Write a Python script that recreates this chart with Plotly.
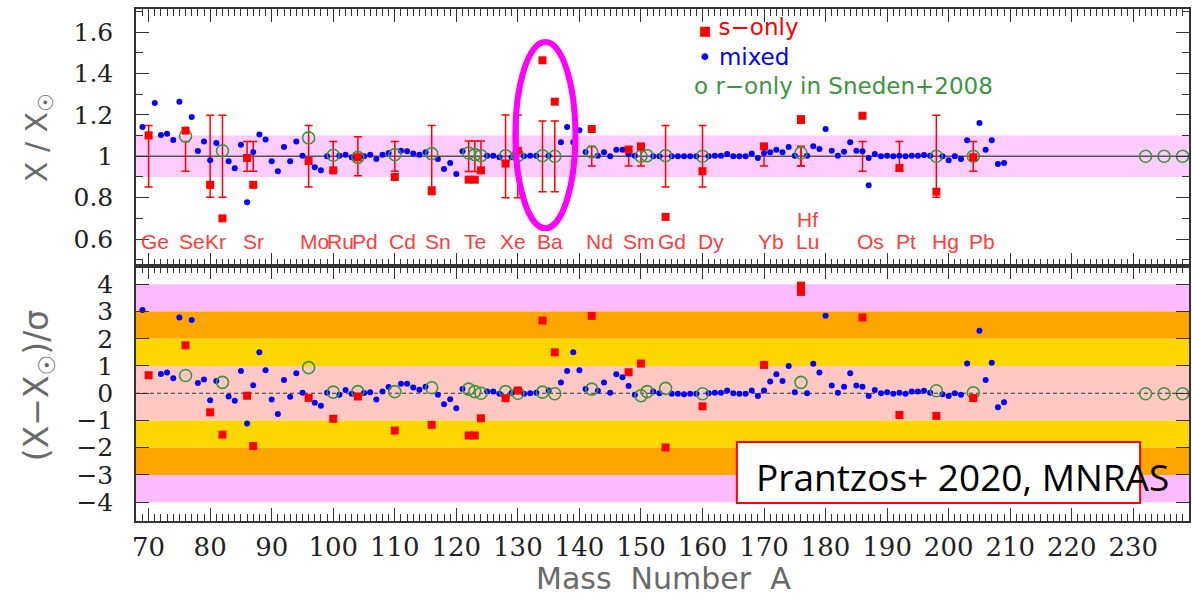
import plotly.graph_objects as go

# ---------------- data ----------------
# mixed isotopes (blue dots), top panel X/Xsun
mixed_A_top = [69, 71, 72, 73, 74, 75, 77, 78, 79, 80, 81, 83, 84, 85, 86, 87, 88, 89, 90, 91, 92, 93, 94, 95,
               97, 98, 99, 101, 102, 103, 105, 106, 107, 108, 109, 111, 112, 113, 114, 115, 117, 118, 119, 120,
               121, 125, 126, 127, 129, 131, 132, 133, 135, 137, 138, 139, 140, 141, 143, 144, 145, 146, 147,
               148, 149, 152, 153, 155, 156, 157, 158, 159, 161, 162, 163, 164, 165, 166, 167, 168, 169, 170,
               171, 172, 173, 174, 175, 177, 178, 179, 180, 181, 182, 183, 184, 185, 186, 187, 187, 188, 189,
               190, 191, 192, 193, 194, 195, 196, 197, 199, 200, 201, 202, 203, 205, 206, 207, 208, 209]
mixed_top = [1.142, 1.258, 1.103, 1.109, 1.079, 1.264, 1.190, 1.026, 1.072, 0.981, 1.064, 0.976, 0.942, 1.056,
             0.778, 1.021, 1.105, 1.081, 0.976, 0.928, 1.045, 0.976, 1.071, 1.003, 0.947, 0.932, 1.000, 1.003,
             1.008, 0.995, 1.000, 1.008, 0.987, 1.008, 1.016, 1.027, 1.024, 1.013, 1.008, 1.019, 0.987, 0.939,
             0.968, 0.915, 1.024, 1.003, 1.003, 0.995, 0.995, 1.000, 1.003, 1.003, 1.003, 1.068, 1.142, 1.068,
             1.126, 1.021, 1.003, 1.019, 1.000, 1.032, 1.032, 1.010, 1.003, 1.000, 1.000, 1.000, 1.000, 1.000,
             1.000, 1.000, 1.000, 1.003, 1.003, 1.011, 1.000, 1.000, 1.000, 1.013, 0.992, 1.016, 1.019, 1.032,
             1.019, 1.045, 1.003, 1.003, 1.048, 1.035, 1.132, 1.027, 1.003, 1.022, 1.068, 1.027, 1.024, 0.992,
             0.860, 1.011, 1.000, 1.003, 1.000, 1.003, 1.000, 1.003, 1.003, 1.006, 1.003, 1.000, 0.981, 1.000,
             0.987, 1.077, 1.161, 1.032, 1.077, 0.963, 0.968]

# mixed isotopes, bottom panel (X - Xsun)/sigma
mixed_A_bot = [69, 72, 73, 74, 75, 77, 78, 79, 80, 81, 83, 84, 85, 86, 87, 88, 89, 90, 91, 92, 93, 94, 95, 97,
               98, 99, 101, 102, 103, 105, 106, 107, 108, 109, 111, 112, 113, 114, 115, 117, 118, 119, 120, 121,
               125, 126, 127, 129, 131, 132, 133, 135, 137, 138, 139, 140, 141, 143, 144, 145, 146, 147, 148,
               149, 152, 153, 155, 156, 157, 158, 159, 161, 162, 163, 164, 165, 166, 167, 168, 169, 170, 171,
               172, 173, 174, 175, 177, 178, 179, 180, 181, 182, 183, 184, 185, 186, 187, 188, 189, 190, 191,
               192, 193, 194, 195, 196, 197, 199, 200, 201, 202, 203, 205, 206, 207, 208, 209]
mixed_bot = [3.06, 0.71, 0.76, 0.55, 2.78, 2.69, 0.38, 0.50, -0.26, 0.45, -0.12, -0.28, 0.82, -1.11, 0.29, 1.50,
             0.84, -0.23, -0.76, 0.49, -0.13, 0.73, 0.02, -0.35, -0.46, 0.02, -0.06, 0.12, -0.02, 0.01, 0.04,
             -0.23, 0.06, 0.23, 0.35, 0.35, 0.21, 0.13, 0.24, -0.06, -0.40, -0.22, -0.55, 0.16, 0.06, 0.06, -0.02,
             0.02, -0.02, 0.00, 0.02, 0.10, 0.39, 0.82, 1.50, 0.84, 0.16, 0.09, 0.39, 0.02, 0.70, 0.59, 0.27,
             -0.06, 0.06, 0.00, -0.02, -0.02, -0.04, -0.02, -0.02, 0.00, 0.02, 0.02, 0.10, 0.00, -0.02, -0.02,
             0.10, -0.10, 0.10, 0.43, 0.70, 0.45, 1.00, 0.04, 0.00, 1.08, 0.76, 2.84, 0.28, 0.02, 0.24, 0.73,
             0.28, 0.24, -0.10, 0.12, 0.00, 0.04, -0.02, 0.02, -0.02, 0.06, 0.06, 0.09, 0.02, -0.04, -0.10, 0.00,
             -0.06, 1.09, 2.29, 0.49, 1.12, -0.51, -0.33]

# s-only isotopes (red squares), with solar uncertainty sigma
s_A = [70, 76, 80, 82, 86, 87, 96, 100, 104, 110, 116, 122, 123, 124, 128, 130, 134, 136, 142, 148, 150, 154,
       160, 170, 176, 176, 186, 192, 198, 204]
s_top = [1.101, 1.124, 0.862, 0.700, 0.992, 0.862, 0.977, 0.932, 0.995, 0.900, 0.831, 0.887, 0.887, 0.932,
         0.965, 1.027, 1.464, 1.264, 1.132, 1.032, 1.048, 0.707, 0.928, 1.048, 1.180, 1.175, 1.196, 0.944,
         0.829, 0.995]
s_sigma = [0.149, 0.072, 0.198, 0.198, 0.072, 0.072, 0.149, 0.072, 0.094, 0.072, 0.149, 0.074, 0.074, 0.074,
           0.200, 0.200, 0.171, 0.171, 0.047, 0.047, 0.047, 0.149, 0.149, 0.047, 0.047, 0.047, 0.072, 0.072,
           0.198, 0.072]
s_bot = [0.66, 1.76, -0.70, -1.52, -0.09, -1.94, -0.17, -0.94, -0.12, -1.37, -1.16, -1.55, -1.55, -0.92, -0.18,
         0.10, 2.67, 1.50, 2.84, 0.77, 1.09, -1.99, -0.48, 1.04, 3.95, 3.72, 2.78, -0.80, -0.83, -0.18]

# r-only in Sneden+2008 (green open circles)
r_A = [76, 82, 96, 100, 104, 110, 116, 122, 123, 124, 128, 130, 134, 136, 142, 150, 151, 154, 160, 176, 198,
       204, 232, 235, 238]
r_top = [1.098, 1.027, 1.089, 1.005, 0.995, 1.008, 1.013, 1.016, 1.008, 1.003, 1.003, 1.003, 1.003, 1.000,
         1.021, 1.000, 1.003, 1.003, 1.000, 1.016, 1.000, 1.000, 1.000, 1.000, 1.000]
r_bot = [0.65, 0.40, 0.94, 0.04, 0.06, 0.06, 0.20, 0.15, 0.06, 0.00, 0.06, 0.00, 0.04, -0.02, 0.15, -0.09, 0.06,
         0.18, -0.02, 0.40, 0.09, 0.02, -0.02, -0.02, -0.02]

# element labels in the top panel
elem_names = ["Ge", "Se", "Kr", "Sr", "Mo", "Ru", "Pd", "Cd", "Sn", "Te", "Xe", "Ba", "Nd", "Sm", "Gd", "Dy",
              "Yb", "Lu", "Os", "Pt", "Hg", "Pb"]
elem_A = [71.1, 77.1, 80.9, 87.0, 97.0, 101.2, 105.1, 111.2, 117.1, 123.0, 129.2, 135.2, 143.2, 149.7, 155.1,
          161.3, 171.2, 177.0, 187.3, 193.1, 199.5, 205.4]

x_ticks = list(range(70, 231, 10))
top_ticks = [0.6, 0.8, 1.0, 1.2, 1.4, 1.6]
top_tick_text = ["0.6", "0.8", "1", "1.2", "1.4", "1.6"]
bot_ticks = [-4, -3, -2, -1, 0, 1, 2, 3, 4]
solar = 1.0

# ---------------- layout helpers ----------------
W, H = 1192, 598
ML, MR, MT, MB = 136, 1, 9, 77
PW, PH = W - ML - MR, H - MT - MB


def pxx(x):
    return (x - ML) / PW


def pxy(y):
    return (H - MB - y) / PH


split = 0.498
RED = "#ff0000"
BLUE = "#0000ff"
GREEN = "#3c963c"

fig = go.Figure()

# error bars (solar uncertainty around 1)
fig.add_trace(go.Scatter(
    x=s_A, y=[solar] * len(s_A), mode="markers", marker=dict(size=1, color="rgba(0,0,0,0)"),
    error_y=dict(type="data", array=s_sigma, visible=True, color=RED, thickness=1.5, width=4),
    xaxis="x2", yaxis="y2", hoverinfo="skip", showlegend=False))

# top panel
fig.add_trace(go.Scatter(x=mixed_A_top, y=mixed_top, mode="markers", xaxis="x2", yaxis="y2",
                         marker=dict(symbol="circle", size=6, color=BLUE), showlegend=False))
fig.add_trace(go.Scatter(x=r_A, y=r_top, mode="markers", xaxis="x2", yaxis="y2",
                         marker=dict(symbol="circle-open", size=12, color=GREEN, line=dict(width=1.6)),
                         showlegend=False))
fig.add_trace(go.Scatter(x=s_A, y=s_top, mode="markers", xaxis="x2", yaxis="y2",
                         marker=dict(symbol="square", size=8, color=RED), showlegend=False))

# bottom panel
fig.add_trace(go.Scatter(x=mixed_A_bot, y=mixed_bot, mode="markers", xaxis="x", yaxis="y",
                         marker=dict(symbol="circle", size=6, color=BLUE), showlegend=False))
fig.add_trace(go.Scatter(x=r_A, y=r_bot, mode="markers", xaxis="x", yaxis="y",
                         marker=dict(symbol="circle-open", size=12, color=GREEN, line=dict(width=1.6)),
                         showlegend=False))
fig.add_trace(go.Scatter(x=s_A, y=s_bot, mode="markers", xaxis="x", yaxis="y",
                         marker=dict(symbol="square", size=8, color=RED), showlegend=False))

shapes = []
# top panel band and solar line
shapes.append(dict(type="rect", xref="x2 domain", yref="y2", x0=0, x1=1, y0=0.9, y1=1.1,
                   fillcolor="#ffccff", line=dict(width=0), layer="below"))
shapes.append(dict(type="line", xref="x2 domain", yref="y2", x0=0, x1=1, y0=solar, y1=solar,
                   line=dict(color="#555555", width=1.5), layer="below"))
# bottom panel sigma bands
bands = [(3, 4, "#ffbbff"), (2, 3, "#ffa500"), (1, 2, "#ffd700"), (-1, 1, "#ffc8c3"),
         (-2, -1, "#ffd700"), (-3, -2, "#ffa500"), (-4, -3, "#ffbbff")]
for lo, hi, col in bands:
    shapes.append(dict(type="rect", xref="x domain", yref="y", x0=0, x1=1, y0=lo, y1=hi,
                       fillcolor=col, line=dict(width=0), layer="below"))
shapes.append(dict(type="line", xref="x domain", yref="y", x0=0, x1=1, y0=0, y1=0,
                   line=dict(color="#333333", width=1, dash="4px,3px"), layer="below"))
# magenta ellipse around Ba
shapes.append(dict(type="circle", xref="x2", yref="y2", x0=129.6, x1=139.35, y0=0.652, y1=1.553,
                   line=dict(color="#ff00ff", width=6), layer="above"))
# reference box
shapes.append(dict(type="rect", xref="paper", yref="paper", x0=pxx(738), x1=pxx(1142), y0=pxy(503),
                   y1=pxy(442), fillcolor="white", line=dict(color="#ff0000", width=2), layer="above"))

annotations = []
elem_font = dict(family="Liberation Sans Narrow, Liberation Sans", size=21, color="#ff3b3b")
for name, a in zip(elem_names, elem_A):
    annotations.append(dict(x=a, y=0.59, xref="x2", yref="y2", text=name, showarrow=False,
                            xanchor="center", yanchor="middle", font=elem_font))
annotations.append(dict(x=177.0, y=0.695, xref="x2", yref="y2", text="Hf", showarrow=False,
                        xanchor="center", yanchor="middle", font=elem_font))

# legend-like labels
leg_font = "DejaVu Sans"
annotations.append(dict(x=pxx(698), y=pxy(27), xref="paper", yref="paper", xanchor="left", yanchor="middle",
                        text="<span style='font-size:13px'>■</span> s−only", showarrow=False,
                        font=dict(family=leg_font, size=23, color=RED)))
annotations.append(dict(x=pxx(697), y=pxy(57), xref="paper", yref="paper", xanchor="left", yanchor="middle",
                        text="• mixed", showarrow=False, font=dict(family=leg_font, size=23, color=BLUE)))
annotations.append(dict(x=pxx(693), y=pxy(86), xref="paper", yref="paper", xanchor="left", yanchor="middle",
                        text="o r−only in Sneden+2008", showarrow=False,
                        font=dict(family=leg_font, size=23, color=GREEN)))

# axis titles
title_col = "#6a6a6a"
annotations.append(dict(x=pxx(38), y=pxy(138), xref="paper", yref="paper", text="X / X<sub>☉</sub>",
                        textangle=-90, showarrow=False, xanchor="center", yanchor="middle",
                        font=dict(family="DejaVu Sans", size=30, color=title_col)))
annotations.append(dict(x=pxx(38), y=pxy(386), xref="paper", yref="paper", text="(X−X<sub>☉</sub>)/σ",
                        textangle=-90, showarrow=False, xanchor="center", yanchor="middle",
                        font=dict(family="DejaVu Sans", size=33, color=title_col)))
annotations.append(dict(x=pxx(665), y=pxy(578), xref="paper", yref="paper",
                        text="Mass\u00a0\u00a0Number\u00a0\u00a0A", showarrow=False, xanchor="center",
                        yanchor="middle", font=dict(family="DejaVu Sans", size=30, color=title_col)))
# reference text
annotations.append(dict(x=pxx(755), y=pxy(476), xref="paper", yref="paper", xanchor="left", yanchor="middle",
                        text="Prantzos+ 2020, MNRAS", showarrow=False,
                        font=dict(family="Open Sans", size=37, color="black")))

axis_common = dict(showline=True, linecolor="#333333", linewidth=1.5, mirror="ticks", ticks="inside",
                   showgrid=False, zeroline=False, tickcolor="#333333")
tick_font = dict(family="DejaVu Serif", size=25, color="#222222")

fig.update_layout(
    width=W, height=H, margin=dict(l=ML, r=MR, t=MT, b=MB),
    paper_bgcolor="white", plot_bgcolor="white", showlegend=False,
    xaxis=dict(domain=[0, 1], anchor="y", range=[67.95, 239.05], tickvals=x_ticks, ticklen=13, tickwidth=1.3,
               minor=dict(dtick=1, ticklen=7, tickwidth=1, ticks="inside", tickcolor="#333333"),
               tickfont=dict(family="DejaVu Serif", size=26, color="#222222"), ticklabelstandoff=2,
               **axis_common),
    xaxis2=dict(domain=[0, 1], anchor="y2", matches="x", range=[67.95, 239.05], tickvals=x_ticks, ticklen=13,
                tickwidth=1.3, showticklabels=False,
                minor=dict(dtick=1, ticklen=7, tickwidth=1, ticks="inside", tickcolor="#333333"),
                **axis_common),
    yaxis=dict(domain=[0, split], anchor="x", range=[-4.69, 4.67], tickvals=bot_ticks, ticklen=13,
               tickwidth=1.3, tickfont=tick_font, ticklabelstandoff=16, **axis_common),
    yaxis2=dict(domain=[split, 1], anchor="x2", range=[0.4696, 1.712], tickvals=top_ticks,
                ticktext=top_tick_text, ticklen=13, tickwidth=1.3,
                minor=dict(dtick=0.1, tick0=0, ticklen=7, tickwidth=1, ticks="inside", tickcolor="#333333"),
                tickfont=tick_font, ticklabelstandoff=16, **axis_common),
    shapes=shapes, annotations=annotations,
)

fig.write_html("out.html")
